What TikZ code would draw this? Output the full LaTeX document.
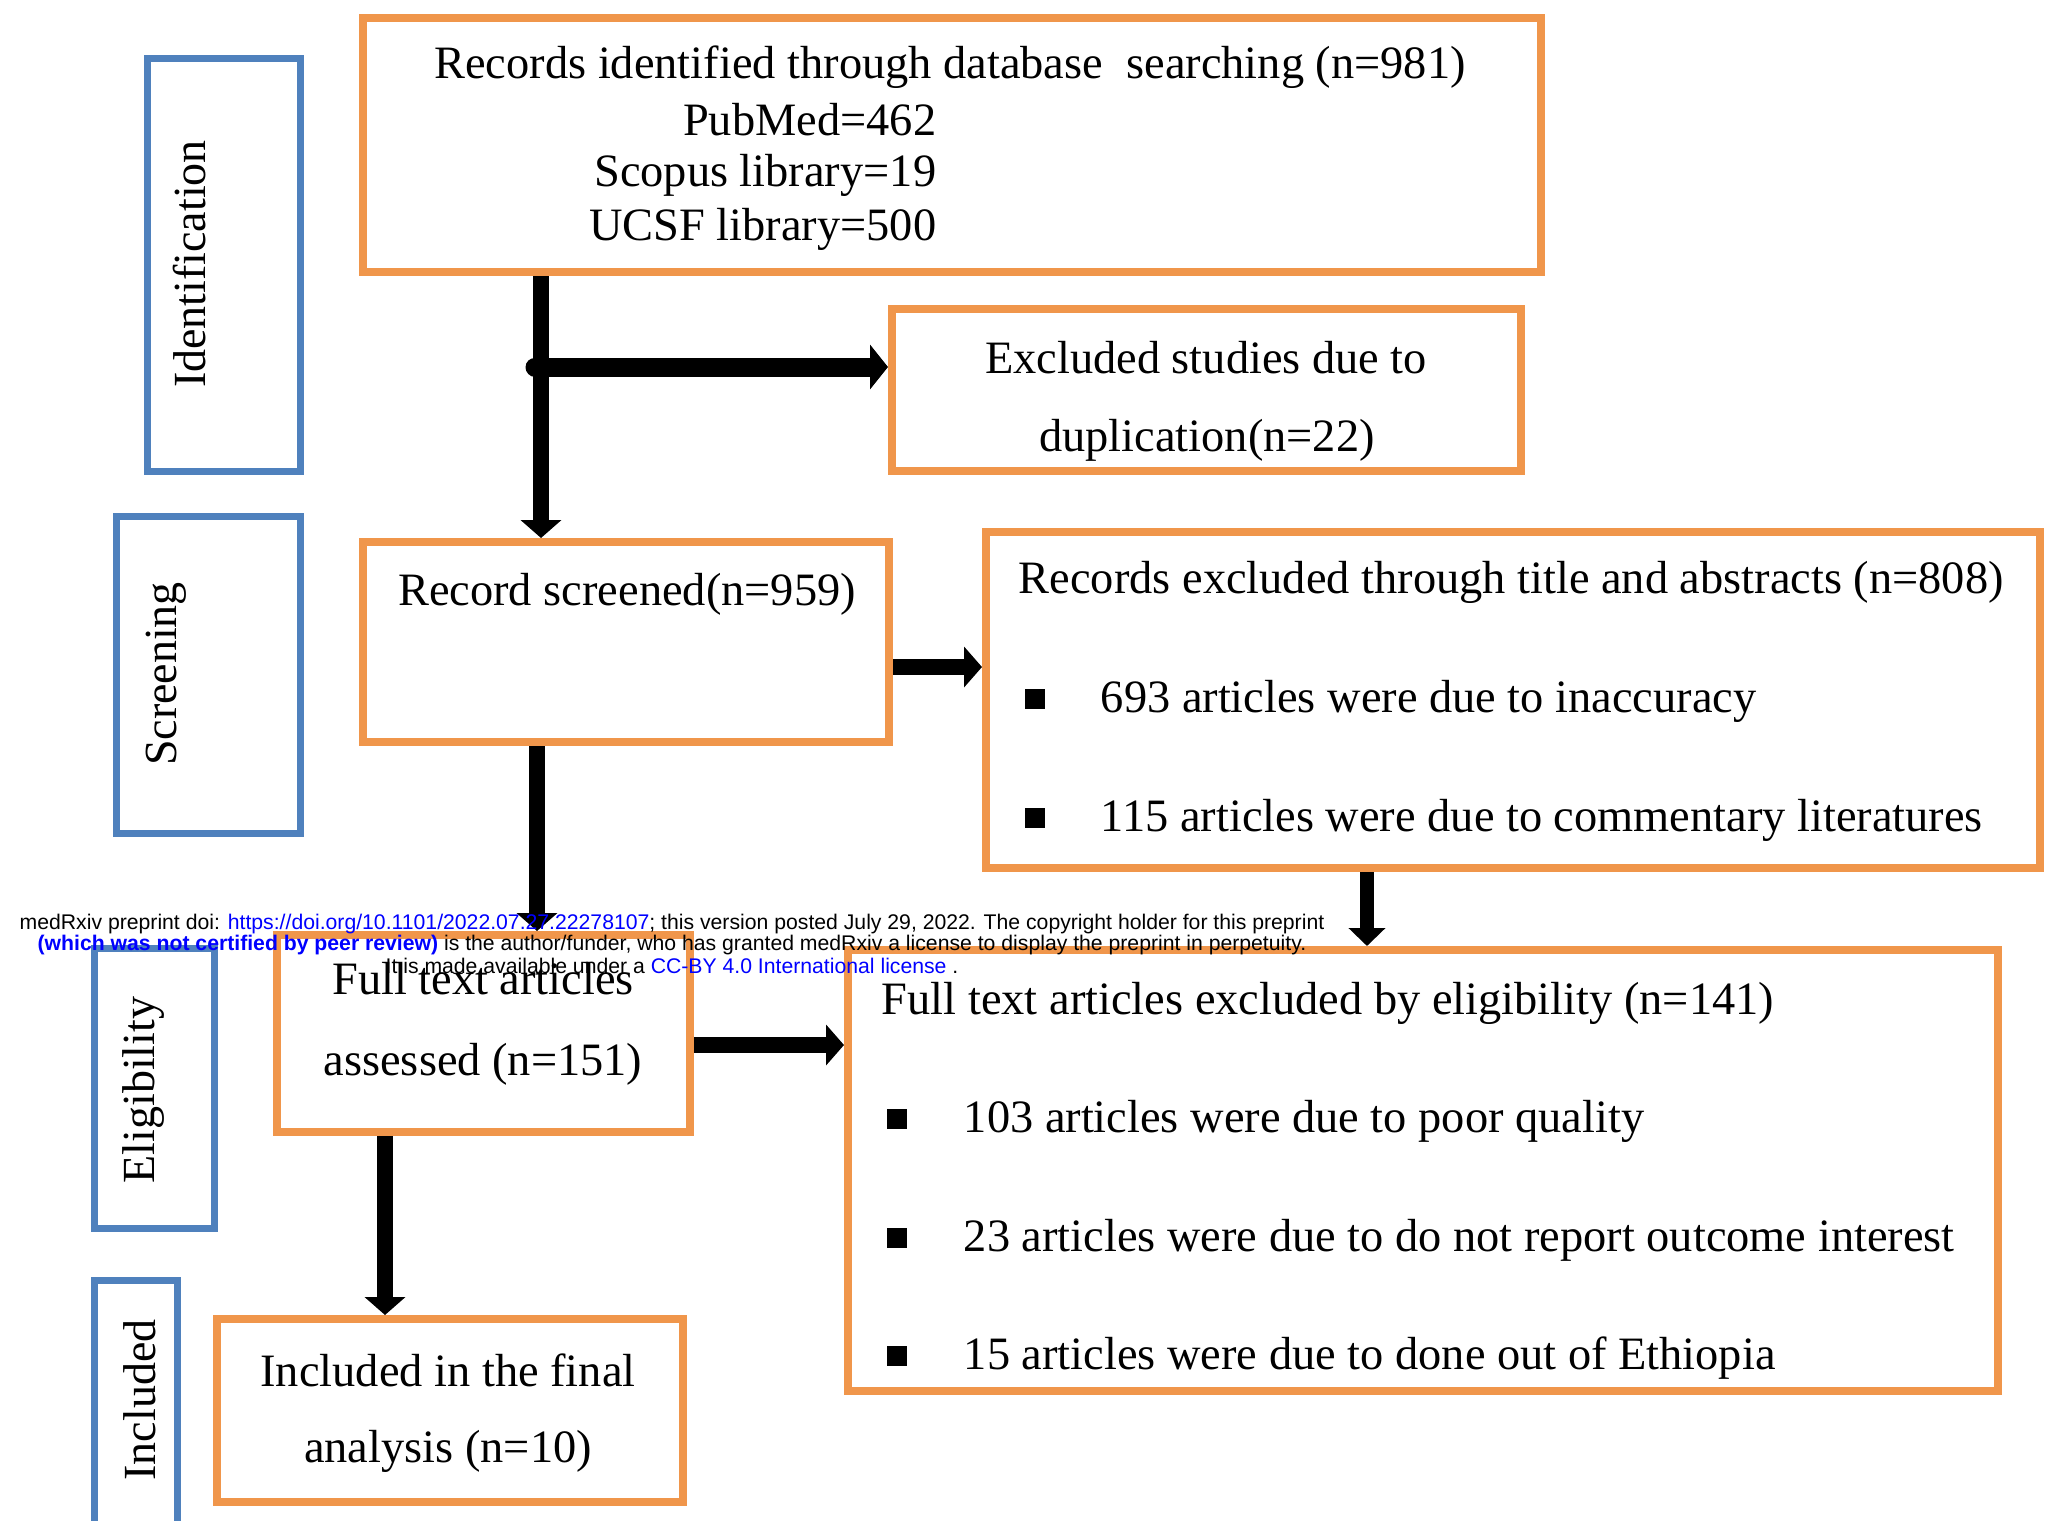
\documentclass[tikz,border=0pt]{standalone}
\usepackage{fontspec}
\setmainfont{Liberation Serif}
\setsansfont{Liberation Sans}
\usetikzlibrary{arrows.meta,fit}
\definecolor{boxorange}{RGB}{240,150,75}
\definecolor{stageblue}{RGB}{79,129,189}
\definecolor{linkblue}{RGB}{0,0,255}
\tikzset{
  flowbox/.style={draw=boxorange, line width=2pt, inner sep=0pt},
  stagebox/.style={draw=stageblue, line width=1.75pt, inner sep=0pt},
  stagelabel/.style={rotate=90, inner sep=0pt, font=\fontsize{11.5}{13.5}\selectfont},
  flowtext/.style={inner sep=0pt, font=\fontsize{11.6}{13.5}\selectfont},
  bulletsq/.style={fill=black, minimum size=5.2pt, inner sep=0pt},
  flowarrow/.style={line width=4pt, -{Triangle[width=10pt,length=4.5pt]}},
  notice/.style={inner sep=0pt, font=\sffamily\fontsize{5.3}{5.6}\selectfont},
}
\begin{document}
\begin{tikzpicture}[x=0.25pt, y=-0.25pt]
\useasboundingbox (0,0) rectangle (2047,1521);

\node[stagebox, fit={(147,58) (300,471)}] (idstage) {};
\node[stagebox, fit={(116,516) (300,833)}] (scrstage) {};
\node[stagebox, fit={(94,948) (214,1228)}] (elistage) {};
\node[stagebox, fit={(94,1280) (177,1545)}] (incstage) {};
\node[stagelabel] (idlabel) at (190,264) {Identification};
\node[stagelabel] (scrlabel) at (166,674) {Screening};
\node[stagelabel] (elilabel) at (144,1090) {Eligibility};
\node[stagelabel] (inclabel) at (140,1400) {Included};

\node[flowbox, fit={(363,18) (1541,272)}] (topbox) {};
\node[flowbox, fit={(892,309) (1521,471)}] (dupbox) {};
\node[flowbox, fit={(363,542) (889,742)}] (scrbox) {};
\node[flowbox, fit={(986,532) (2040,868)}] (exclbox) {};
\node[flowbox, fit={(277,935) (690,1132)}] (ftabox) {};
\node[flowbox, fit={(848,950) (1998,1391)}] (ftebox) {};
\node[flowbox, fit={(217,1319) (683,1502)}] (incbox) {};

\node[flowtext] (toptitle) at (950,67) {Records identified through database~ searching (n=981)};
\node[flowtext, anchor=east] (pubmed) at (937,120) {PubMed=462};
\node[flowtext, anchor=east] (scopus) at (937,175) {Scopus library=19};
\node[flowtext, anchor=east] (ucsf) at (937,229) {UCSF library=500};

\node[flowtext] (dupa) at (1206,358) {Excluded studies due to};
\node[flowtext] (dupb) at (1207,440) {duplication(n=22)};

\node[flowtext] (scrtext) at (627,594) {Record screened(n=959)};

\node[flowtext, anchor=west] (excltitle) at (1018,582) {Records excluded through title and abstracts (n=808)};
\node[bulletsq] (exclsqa) at (1035,699) {};
\node[bulletsq] (exclsqb) at (1035,818) {};
\node[flowtext, anchor=west] (exclia) at (1100,701) {693 articles were due to inaccuracy};
\node[flowtext, anchor=west] (exclib) at (1100,820) {115 articles were due to commentary literatures};

\node[flowtext] (ftaa) at (483,979) {Full text articles};
\node[flowtext] (ftab) at (483,1064) {assessed (n=151)};

\node[flowtext, anchor=west] (ftetitle) at (881,1003) {Full text articles excluded by eligibility (n=141)};
\node[bulletsq] (ftesqa) at (897,1119) {};
\node[bulletsq] (ftesqb) at (897,1238) {};
\node[bulletsq] (ftesqc) at (897,1356) {};
\node[flowtext, anchor=west] (fteia) at (963,1121) {103 articles were due to poor quality};
\node[flowtext, anchor=west] (fteib) at (963,1240) {23 articles were due to do not report outcome interest};
\node[flowtext, anchor=west] (fteic) at (963,1358) {15 articles were due to done out of Ethiopia};

\node[flowtext] (inca) at (448,1370) {Included in the final};
\node[flowtext] (incb) at (448,1451) {analysis (n=10)};

\coordinate (trunk) at (541,0);
\coordinate (branch) at (535,367);
\coordinate (scrout) at (0,667);
\coordinate (scrdown) at (537,0);
\coordinate (excldown) at (1367,0);
\coordinate (ftaout) at (0,1045);
\coordinate (ftadown) at (385,0);

\draw[flowarrow] (topbox.south -| trunk) -- (scrbox.north -| trunk);
\draw[line width=4.75pt, line cap=round, -{Triangle[width=11pt,length=4.5pt]}] (branch) -- (branch -| dupbox.west);
\draw[flowarrow] (scrbox.east |- scrout) -- (exclbox.west |- scrout);
\draw[flowarrow] (scrbox.south -| scrdown) -- (ftabox.north -| scrdown);
\draw[line width=3.5pt, -{Triangle[width=9pt,length=4.5pt]}] (exclbox.south -| excldown) -- (ftebox.north -| excldown);
\draw[flowarrow] (ftabox.east |- ftaout) -- (ftebox.west |- ftaout);
\draw[flowarrow] (ftabox.south -| ftadown) -- (incbox.north -| ftadown);

\node[notice] (noticea) at (672,924) {medRxiv preprint doi: \textcolor{linkblue}{https://doi.org/10.1101/2022.07.27.22278107}; this version posted July 29, 2022. The copyright holder for this preprint};
\node[notice] (noticeb) at (672,945) {\textcolor{linkblue}{\bfseries (which was not certified by peer review)} is the author/funder, who has granted medRxiv a license to display the preprint in perpetuity.};
\node[notice] (noticec) at (672,966) {It is made available under a \textcolor{linkblue}{CC-BY 4.0 International license} .};
\end{tikzpicture}
\end{document}
